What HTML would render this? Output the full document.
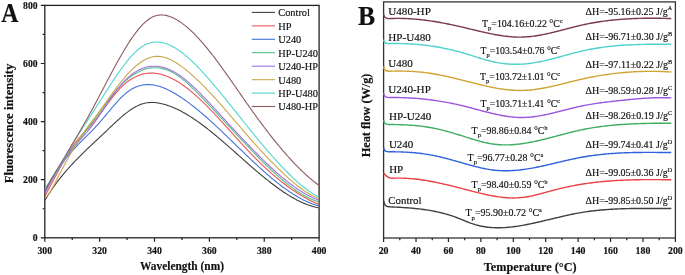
<!DOCTYPE html><html><head><meta charset="utf-8"><style>html,body{margin:0;padding:0;background:#fff;overflow:hidden}svg{display:block;will-change:transform}text{font-family:"Liberation Serif",serif;fill:#111;stroke:#111;stroke-width:0.18px}</style></head><body>
<svg width="685" height="275" viewBox="0 0 685 275">
<rect x="44.8" y="5.4" width="274.3" height="232.4" fill="none" stroke="#222" stroke-width="1.3"/>
<path d="M44.8,237.80h-4 M44.8,208.75h-2.2 M44.8,179.70h-4 M44.8,150.65h-2.2 M44.8,121.60h-4 M44.8,92.55h-2.2 M44.8,63.50h-4 M44.8,34.45h-2.2 M44.8,5.40h-4 M44.80,237.8v4 M72.23,237.8v2.2 M99.66,237.8v4 M127.09,237.8v2.2 M154.52,237.8v4 M181.95,237.8v2.2 M209.38,237.8v4 M236.81,237.8v2.2 M264.24,237.8v4 M291.67,237.8v2.2 M319.10,237.8v4" stroke="#222" stroke-width="1.2" fill="none"/>
<text transform="translate(37.6,241.20000000000002) scale(0.92,1)" font-size="10.5" font-weight="bold" text-anchor="end">0</text>
<text transform="translate(37.6,183.10000000000002) scale(0.92,1)" font-size="10.5" font-weight="bold" text-anchor="end">200</text>
<text transform="translate(37.6,125.00000000000001) scale(0.92,1)" font-size="10.5" font-weight="bold" text-anchor="end">400</text>
<text transform="translate(37.6,66.9) scale(0.92,1)" font-size="10.5" font-weight="bold" text-anchor="end">600</text>
<text transform="translate(37.6,8.800000000000006) scale(0.92,1)" font-size="10.5" font-weight="bold" text-anchor="end">800</text>
<text transform="translate(44.8,254.1) scale(0.92,1)" font-size="10.6" font-weight="bold" text-anchor="middle">300</text>
<text transform="translate(99.66,254.1) scale(0.92,1)" font-size="10.6" font-weight="bold" text-anchor="middle">320</text>
<text transform="translate(154.51999999999998,254.1) scale(0.92,1)" font-size="10.6" font-weight="bold" text-anchor="middle">340</text>
<text transform="translate(209.38,254.1) scale(0.92,1)" font-size="10.6" font-weight="bold" text-anchor="middle">360</text>
<text transform="translate(264.24,254.1) scale(0.92,1)" font-size="10.6" font-weight="bold" text-anchor="middle">380</text>
<text transform="translate(319.1,254.1) scale(0.92,1)" font-size="10.6" font-weight="bold" text-anchor="middle">400</text>
<text x="140" y="270.3" font-size="12.3" font-weight="bold" text-anchor="start" textLength="84" lengthAdjust="spacingAndGlyphs">Wavelength (nm)</text>
<text transform="translate(12.8,183.3) rotate(-90)" x="0" y="0" font-size="12.5" font-weight="bold" textLength="119.6" lengthAdjust="spacingAndGlyphs">Fluorescence intensity</text>
<text transform="translate(1.3,21.5) scale(0.9,1)" font-size="26.5" font-weight="bold" text-anchor="start">A</text>
<g fill="none" stroke-width="1.1" stroke-linejoin="round">
<polyline points="44.8,200.37 45.8,198.73 46.8,197.13 47.8,195.54 48.8,193.99 49.8,192.47 50.8,190.97 51.8,189.50 52.8,188.06 53.8,186.64 54.8,185.24 55.8,183.87 56.8,182.52 57.8,181.19 58.8,179.89 59.8,178.60 60.8,177.34 61.8,176.09 62.8,174.87 63.8,173.66 64.8,172.47 65.8,171.30 66.8,170.14 67.8,169.00 68.8,167.87 69.8,166.76 70.8,165.66 71.8,164.57 72.8,163.50 73.8,162.44 74.8,161.39 75.8,160.34 76.8,159.31 77.8,158.29 78.8,157.27 79.8,156.27 80.8,155.27 81.8,154.28 82.8,153.29 83.8,152.32 84.8,151.34 85.8,150.38 86.8,149.42 87.8,148.46 88.8,147.51 89.8,146.56 90.8,145.61 91.8,144.67 92.8,143.73 93.8,142.79 94.8,141.85 95.8,140.92 96.8,139.98 97.8,139.05 98.8,138.11 99.8,137.18 100.8,136.24 101.8,135.30 102.8,134.37 103.8,133.42 104.8,132.48 105.8,131.53 106.8,130.58 107.8,129.62 108.8,128.67 109.8,127.71 110.8,126.76 111.8,125.81 112.8,124.86 113.8,123.92 114.8,122.98 115.8,122.05 116.8,121.13 117.8,120.22 118.8,119.31 119.8,118.42 120.8,117.54 121.8,116.68 122.8,115.83 123.8,114.99 124.8,114.18 125.8,113.38 126.8,112.60 127.8,111.84 128.8,111.10 129.8,110.39 130.8,109.70 131.8,109.04 132.8,108.40 133.8,107.79 134.8,107.20 135.8,106.65 136.8,106.13 137.8,105.64 138.8,105.18 139.8,104.76 140.8,104.38 141.8,104.03 142.8,103.71 143.8,103.44 144.8,103.20 145.8,102.99 146.8,102.82 147.8,102.68 148.8,102.58 149.8,102.50 150.8,102.46 151.8,102.45 152.8,102.46 153.8,102.50 154.8,102.57 155.8,102.66 156.8,102.78 157.8,102.92 158.8,103.09 159.8,103.27 160.8,103.48 161.8,103.71 162.8,103.96 163.8,104.22 164.8,104.51 165.8,104.81 166.8,105.12 167.8,105.45 168.8,105.80 169.8,106.16 170.8,106.54 171.8,106.93 172.8,107.33 173.8,107.75 174.8,108.19 175.8,108.64 176.8,109.10 177.8,109.58 178.8,110.07 179.8,110.57 180.8,111.08 181.8,111.61 182.8,112.15 183.8,112.71 184.8,113.27 185.8,113.85 186.8,114.44 187.8,115.03 188.8,115.65 189.8,116.27 190.8,116.90 191.8,117.54 192.8,118.19 193.8,118.86 194.8,119.53 195.8,120.21 196.8,120.90 197.8,121.61 198.8,122.32 199.8,123.03 200.8,123.76 201.8,124.50 202.8,125.24 203.8,125.99 204.8,126.75 205.8,127.52 206.8,128.29 207.8,129.07 208.8,129.86 209.8,130.65 210.8,131.45 211.8,132.26 212.8,133.07 213.8,133.89 214.8,134.71 215.8,135.54 216.8,136.37 217.8,137.21 218.8,138.05 219.8,138.90 220.8,139.75 221.8,140.61 222.8,141.47 223.8,142.33 224.8,143.20 225.8,144.06 226.8,144.94 227.8,145.81 228.8,146.69 229.8,147.57 230.8,148.45 231.8,149.33 232.8,150.21 233.8,151.10 234.8,151.98 235.8,152.87 236.8,153.76 237.8,154.65 238.8,155.54 239.8,156.42 240.8,157.31 241.8,158.20 242.8,159.09 243.8,159.97 244.8,160.86 245.8,161.74 246.8,162.62 247.8,163.50 248.8,164.38 249.8,165.26 250.8,166.13 251.8,167.00 252.8,167.87 253.8,168.74 254.8,169.60 255.8,170.46 256.8,171.31 257.8,172.16 258.8,173.01 259.8,173.85 260.8,174.69 261.8,175.52 262.8,176.35 263.8,177.17 264.8,177.98 265.8,178.80 266.8,179.60 267.8,180.40 268.8,181.19 269.8,181.98 270.8,182.76 271.8,183.53 272.8,184.29 273.8,185.05 274.8,185.80 275.8,186.54 276.8,187.28 277.8,188.00 278.8,188.72 279.8,189.43 280.8,190.12 281.8,190.81 282.8,191.50 283.8,192.17 284.8,192.83 285.8,193.48 286.8,194.12 287.8,194.75 288.8,195.37 289.8,195.98 290.8,196.57 291.8,197.16 292.8,197.73 293.8,198.29 294.8,198.84 295.8,199.38 296.8,199.91 297.8,200.42 298.8,200.92 299.8,201.41 300.8,201.88 301.8,202.34 302.8,202.79 303.8,203.22 304.8,203.63 305.8,204.04 306.8,204.43 307.8,204.80 308.8,205.16 309.8,205.50 310.8,205.83 311.8,206.14 312.8,206.44 313.8,206.72 314.8,206.98 315.8,207.23 316.8,207.46 317.8,207.67 318.5,207.81" stroke="#404040"/>
<polyline points="44.8,196.25 45.8,194.43 46.8,192.59 47.8,190.73 48.8,188.87 49.8,186.99 50.8,185.11 51.8,183.22 52.8,181.32 53.8,179.43 54.8,177.54 55.8,175.65 56.8,173.76 57.8,171.89 58.8,170.02 59.8,168.17 60.8,166.34 61.8,164.52 62.8,162.71 63.8,160.94 64.8,159.18 65.8,157.45 66.8,155.76 67.8,154.09 68.8,152.45 69.8,150.85 70.8,149.29 71.8,147.77 72.8,146.29 73.8,144.86 74.8,143.47 75.8,142.13 76.8,140.85 77.8,139.61 78.8,138.43 79.8,137.28 80.8,136.16 81.8,135.07 82.8,134.00 83.8,132.95 84.8,131.91 85.8,130.87 86.8,129.83 87.8,128.78 88.8,127.72 89.8,126.63 90.8,125.52 91.8,124.38 92.8,123.21 93.8,122.00 94.8,120.77 95.8,119.52 96.8,118.24 97.8,116.94 98.8,115.63 99.8,114.30 100.8,112.96 101.8,111.61 102.8,110.25 103.8,108.90 104.8,107.53 105.8,106.17 106.8,104.82 107.8,103.47 108.8,102.13 109.8,100.80 110.8,99.49 111.8,98.19 112.8,96.91 113.8,95.65 114.8,94.42 115.8,93.21 116.8,92.04 117.8,90.89 118.8,89.78 119.8,88.71 120.8,87.68 121.8,86.69 122.8,85.73 123.8,84.81 124.8,83.93 125.8,83.09 126.8,82.28 127.8,81.51 128.8,80.78 129.8,80.08 130.8,79.42 131.8,78.79 132.8,78.20 133.8,77.64 134.8,77.12 135.8,76.63 136.8,76.17 137.8,75.75 138.8,75.36 139.8,75.00 140.8,74.67 141.8,74.37 142.8,74.11 143.8,73.88 144.8,73.67 145.8,73.50 146.8,73.36 147.8,73.24 148.8,73.16 149.8,73.10 150.8,73.08 151.8,73.08 152.8,73.11 153.8,73.16 154.8,73.24 155.8,73.35 156.8,73.49 157.8,73.65 158.8,73.84 159.8,74.05 160.8,74.28 161.8,74.55 162.8,74.83 163.8,75.14 164.8,75.47 165.8,75.83 166.8,76.21 167.8,76.61 168.8,77.03 169.8,77.48 170.8,77.94 171.8,78.43 172.8,78.93 173.8,79.46 174.8,80.01 175.8,80.58 176.8,81.16 177.8,81.77 178.8,82.39 179.8,83.03 180.8,83.69 181.8,84.37 182.8,85.06 183.8,85.77 184.8,86.50 185.8,87.24 186.8,88.00 187.8,88.78 188.8,89.56 189.8,90.37 190.8,91.19 191.8,92.02 192.8,92.87 193.8,93.73 194.8,94.60 195.8,95.48 196.8,96.38 197.8,97.29 198.8,98.21 199.8,99.14 200.8,100.09 201.8,101.04 202.8,102.00 203.8,102.98 204.8,103.96 205.8,104.95 206.8,105.95 207.8,106.96 208.8,107.98 209.8,109.01 210.8,110.04 211.8,111.08 212.8,112.13 213.8,113.18 214.8,114.24 215.8,115.31 216.8,116.38 217.8,117.45 218.8,118.53 219.8,119.62 220.8,120.71 221.8,121.80 222.8,122.89 223.8,123.99 224.8,125.09 225.8,126.20 226.8,127.30 227.8,128.41 228.8,129.52 229.8,130.63 230.8,131.74 231.8,132.85 232.8,133.96 233.8,135.06 234.8,136.17 235.8,137.28 236.8,138.39 237.8,139.49 238.8,140.59 239.8,141.69 240.8,142.79 241.8,143.88 242.8,144.97 243.8,146.05 244.8,147.13 245.8,148.21 246.8,149.28 247.8,150.35 248.8,151.41 249.8,152.46 250.8,153.51 251.8,154.55 252.8,155.59 253.8,156.61 254.8,157.63 255.8,158.64 256.8,159.65 257.8,160.64 258.8,161.63 259.8,162.60 260.8,163.57 261.8,164.54 262.8,165.49 263.8,166.43 264.8,167.37 265.8,168.30 266.8,169.22 267.8,170.13 268.8,171.03 269.8,171.92 270.8,172.81 271.8,173.68 272.8,174.55 273.8,175.41 274.8,176.26 275.8,177.10 276.8,177.93 277.8,178.76 278.8,179.57 279.8,180.38 280.8,181.17 281.8,181.96 282.8,182.74 283.8,183.51 284.8,184.27 285.8,185.02 286.8,185.76 287.8,186.50 288.8,187.22 289.8,187.93 290.8,188.64 291.8,189.34 292.8,190.02 293.8,190.70 294.8,191.37 295.8,192.03 296.8,192.67 297.8,193.31 298.8,193.94 299.8,194.56 300.8,195.17 301.8,195.77 302.8,196.37 303.8,196.95 304.8,197.52 305.8,198.08 306.8,198.63 307.8,199.18 308.8,199.71 309.8,200.23 310.8,200.74 311.8,201.25 312.8,201.74 313.8,202.22 314.8,202.69 315.8,203.16 316.8,203.61 317.8,204.05 318.5,204.35" stroke="#e8555a"/>
<polyline points="44.8,193.43 45.8,191.29 46.8,189.21 47.8,187.18 48.8,185.20 49.8,183.28 50.8,181.41 51.8,179.59 52.8,177.81 53.8,176.09 54.8,174.41 55.8,172.77 56.8,171.18 57.8,169.62 58.8,168.11 59.8,166.63 60.8,165.20 61.8,163.79 62.8,162.42 63.8,161.09 64.8,159.78 65.8,158.50 66.8,157.26 67.8,156.03 68.8,154.84 69.8,153.67 70.8,152.51 71.8,151.38 72.8,150.27 73.8,149.18 74.8,148.10 75.8,147.04 76.8,146.00 77.8,144.96 78.8,143.93 79.8,142.92 80.8,141.91 81.8,140.91 82.8,139.91 83.8,138.91 84.8,137.92 85.8,136.93 86.8,135.94 87.8,134.94 88.8,133.94 89.8,132.93 90.8,131.92 91.8,130.90 92.8,129.87 93.8,128.83 94.8,127.77 95.8,126.70 96.8,125.62 97.8,124.52 98.8,123.40 99.8,122.26 100.8,121.11 101.8,119.94 102.8,118.76 103.8,117.57 104.8,116.37 105.8,115.17 106.8,113.97 107.8,112.76 108.8,111.55 109.8,110.35 110.8,109.16 111.8,107.97 112.8,106.79 113.8,105.62 114.8,104.47 115.8,103.33 116.8,102.21 117.8,101.12 118.8,100.04 119.8,98.99 120.8,97.97 121.8,96.97 122.8,96.01 123.8,95.08 124.8,94.19 125.8,93.33 126.8,92.52 127.8,91.74 128.8,91.01 129.8,90.33 130.8,89.68 131.8,89.08 132.8,88.52 133.8,88.00 134.8,87.51 135.8,87.07 136.8,86.67 137.8,86.30 138.8,85.97 139.8,85.68 140.8,85.42 141.8,85.20 142.8,85.02 143.8,84.86 144.8,84.74 145.8,84.66 146.8,84.60 147.8,84.58 148.8,84.59 149.8,84.63 150.8,84.69 151.8,84.79 152.8,84.92 153.8,85.07 154.8,85.25 155.8,85.45 156.8,85.68 157.8,85.94 158.8,86.22 159.8,86.52 160.8,86.85 161.8,87.20 162.8,87.57 163.8,87.96 164.8,88.37 165.8,88.81 166.8,89.26 167.8,89.73 168.8,90.22 169.8,90.72 170.8,91.24 171.8,91.78 172.8,92.33 173.8,92.90 174.8,93.48 175.8,94.08 176.8,94.69 177.8,95.31 178.8,95.94 179.8,96.58 180.8,97.24 181.8,97.90 182.8,98.58 183.8,99.27 184.8,99.97 185.8,100.67 186.8,101.39 187.8,102.12 188.8,102.86 189.8,103.61 190.8,104.37 191.8,105.14 192.8,105.91 193.8,106.70 194.8,107.49 195.8,108.29 196.8,109.10 197.8,109.92 198.8,110.75 199.8,111.58 200.8,112.42 201.8,113.27 202.8,114.13 203.8,114.99 204.8,115.86 205.8,116.73 206.8,117.61 207.8,118.50 208.8,119.39 209.8,120.29 210.8,121.19 211.8,122.10 212.8,123.01 213.8,123.93 214.8,124.85 215.8,125.78 216.8,126.71 217.8,127.65 218.8,128.59 219.8,129.53 220.8,130.47 221.8,131.42 222.8,132.37 223.8,133.33 224.8,134.28 225.8,135.24 226.8,136.20 227.8,137.16 228.8,138.13 229.8,139.09 230.8,140.06 231.8,141.03 232.8,142.00 233.8,142.97 234.8,143.94 235.8,144.90 236.8,145.87 237.8,146.84 238.8,147.81 239.8,148.78 240.8,149.75 241.8,150.72 242.8,151.68 243.8,152.65 244.8,153.61 245.8,154.57 246.8,155.53 247.8,156.48 248.8,157.44 249.8,158.39 250.8,159.34 251.8,160.28 252.8,161.23 253.8,162.16 254.8,163.10 255.8,164.03 256.8,164.96 257.8,165.88 258.8,166.80 259.8,167.71 260.8,168.62 261.8,169.52 262.8,170.42 263.8,171.31 264.8,172.20 265.8,173.08 266.8,173.96 267.8,174.82 268.8,175.69 269.8,176.54 270.8,177.39 271.8,178.23 272.8,179.06 273.8,179.89 274.8,180.71 275.8,181.52 276.8,182.32 277.8,183.11 278.8,183.90 279.8,184.68 280.8,185.44 281.8,186.20 282.8,186.95 283.8,187.69 284.8,188.42 285.8,189.14 286.8,189.85 287.8,190.55 288.8,191.23 289.8,191.91 290.8,192.58 291.8,193.23 292.8,193.88 293.8,194.51 294.8,195.13 295.8,195.74 296.8,196.33 297.8,196.91 298.8,197.49 299.8,198.04 300.8,198.59 301.8,199.12 302.8,199.64 303.8,200.14 304.8,200.63 305.8,201.11 306.8,201.57 307.8,202.02 308.8,202.45 309.8,202.87 310.8,203.27 311.8,203.65 312.8,204.03 313.8,204.38 314.8,204.72 315.8,205.05 316.8,205.35 317.8,205.64 318.5,205.84" stroke="#3f72d8"/>
<polyline points="44.8,189.95 45.8,188.15 46.8,186.38 47.8,184.64 48.8,182.93 49.8,181.25 50.8,179.59 51.8,177.95 52.8,176.34 53.8,174.75 54.8,173.19 55.8,171.64 56.8,170.12 57.8,168.61 58.8,167.13 59.8,165.66 60.8,164.21 61.8,162.78 62.8,161.36 63.8,159.95 64.8,158.56 65.8,157.18 66.8,155.82 67.8,154.46 68.8,153.12 69.8,151.78 70.8,150.45 71.8,149.13 72.8,147.82 73.8,146.51 74.8,145.21 75.8,143.91 76.8,142.62 77.8,141.32 78.8,140.03 79.8,138.74 80.8,137.45 81.8,136.15 82.8,134.86 83.8,133.56 84.8,132.26 85.8,130.95 86.8,129.64 87.8,128.33 88.8,127.00 89.8,125.67 90.8,124.32 91.8,122.97 92.8,121.61 93.8,120.24 94.8,118.87 95.8,117.49 96.8,116.10 97.8,114.72 98.8,113.33 99.8,111.94 100.8,110.56 101.8,109.18 102.8,107.80 103.8,106.43 104.8,105.07 105.8,103.72 106.8,102.38 107.8,101.05 108.8,99.73 109.8,98.43 110.8,97.14 111.8,95.87 112.8,94.62 113.8,93.39 114.8,92.19 115.8,91.00 116.8,89.84 117.8,88.71 118.8,87.60 119.8,86.52 120.8,85.47 121.8,84.45 122.8,83.46 123.8,82.50 124.8,81.57 125.8,80.67 126.8,79.80 127.8,78.96 128.8,78.15 129.8,77.37 130.8,76.62 131.8,75.90 132.8,75.21 133.8,74.55 134.8,73.92 135.8,73.32 136.8,72.75 137.8,72.21 138.8,71.70 139.8,71.22 140.8,70.77 141.8,70.35 142.8,69.96 143.8,69.60 144.8,69.28 145.8,68.98 146.8,68.71 147.8,68.48 148.8,68.27 149.8,68.09 150.8,67.95 151.8,67.84 152.8,67.75 153.8,67.70 154.8,67.68 155.8,67.69 156.8,67.73 157.8,67.80 158.8,67.90 159.8,68.03 160.8,68.20 161.8,68.39 162.8,68.62 163.8,68.87 164.8,69.16 165.8,69.48 166.8,69.83 167.8,70.21 168.8,70.62 169.8,71.06 170.8,71.54 171.8,72.04 172.8,72.58 173.8,73.14 174.8,73.74 175.8,74.36 176.8,75.01 177.8,75.68 178.8,76.38 179.8,77.10 180.8,77.85 181.8,78.62 182.8,79.41 183.8,80.22 184.8,81.05 185.8,81.90 186.8,82.77 187.8,83.66 188.8,84.56 189.8,85.48 190.8,86.42 191.8,87.36 192.8,88.32 193.8,89.30 194.8,90.28 195.8,91.28 196.8,92.28 197.8,93.30 198.8,94.32 199.8,95.35 200.8,96.38 201.8,97.42 202.8,98.47 203.8,99.52 204.8,100.57 205.8,101.62 206.8,102.68 207.8,103.73 208.8,104.79 209.8,105.85 210.8,106.91 211.8,107.98 212.8,109.04 213.8,110.11 214.8,111.17 215.8,112.24 216.8,113.31 217.8,114.38 218.8,115.45 219.8,116.52 220.8,117.59 221.8,118.66 222.8,119.73 223.8,120.80 224.8,121.88 225.8,122.95 226.8,124.02 227.8,125.09 228.8,126.16 229.8,127.24 230.8,128.31 231.8,129.38 232.8,130.45 233.8,131.52 234.8,132.59 235.8,133.65 236.8,134.72 237.8,135.79 238.8,136.85 239.8,137.92 240.8,138.98 241.8,140.04 242.8,141.10 243.8,142.16 244.8,143.21 245.8,144.27 246.8,145.32 247.8,146.37 248.8,147.42 249.8,148.47 250.8,149.51 251.8,150.56 252.8,151.59 253.8,152.63 254.8,153.66 255.8,154.69 256.8,155.72 257.8,156.74 258.8,157.76 259.8,158.77 260.8,159.78 261.8,160.78 262.8,161.78 263.8,162.77 264.8,163.76 265.8,164.74 266.8,165.72 267.8,166.69 268.8,167.65 269.8,168.60 270.8,169.55 271.8,170.49 272.8,171.42 273.8,172.35 274.8,173.27 275.8,174.18 276.8,175.08 277.8,175.97 278.8,176.85 279.8,177.72 280.8,178.59 281.8,179.44 282.8,180.29 283.8,181.12 284.8,181.94 285.8,182.76 286.8,183.56 287.8,184.35 288.8,185.13 289.8,185.90 290.8,186.66 291.8,187.40 292.8,188.13 293.8,188.85 294.8,189.56 295.8,190.25 296.8,190.93 297.8,191.60 298.8,192.25 299.8,192.89 300.8,193.51 301.8,194.12 302.8,194.72 303.8,195.30 304.8,195.86 305.8,196.41 306.8,196.95 307.8,197.47 308.8,197.97 309.8,198.46 310.8,198.92 311.8,199.38 312.8,199.81 313.8,200.23 314.8,200.63 315.8,201.01 316.8,201.38 317.8,201.72 318.5,201.96" stroke="#54c084"/>
<polyline points="44.8,192.37 45.8,190.61 46.8,188.86 47.8,187.12 48.8,185.39 49.8,183.67 50.8,181.97 51.8,180.27 52.8,178.60 53.8,176.93 54.8,175.28 55.8,173.64 56.8,172.02 57.8,170.42 58.8,168.83 59.8,167.26 60.8,165.71 61.8,164.17 62.8,162.65 63.8,161.16 64.8,159.68 65.8,158.22 66.8,156.78 67.8,155.36 68.8,153.97 69.8,152.60 70.8,151.24 71.8,149.92 72.8,148.61 73.8,147.33 74.8,146.08 75.8,144.85 76.8,143.65 77.8,142.47 78.8,141.31 79.8,140.16 80.8,139.03 81.8,137.91 82.8,136.79 83.8,135.66 84.8,134.53 85.8,133.39 86.8,132.24 87.8,131.06 88.8,129.87 89.8,128.64 90.8,127.38 91.8,126.09 92.8,124.76 93.8,123.39 94.8,122.00 95.8,120.58 96.8,119.13 97.8,117.67 98.8,116.19 99.8,114.69 100.8,113.18 101.8,111.66 102.8,110.14 103.8,108.62 104.8,107.09 105.8,105.57 106.8,104.06 107.8,102.55 108.8,101.06 109.8,99.59 110.8,98.13 111.8,96.70 112.8,95.29 113.8,93.91 114.8,92.56 115.8,91.23 116.8,89.94 117.8,88.67 118.8,87.44 119.8,86.23 120.8,85.06 121.8,83.92 122.8,82.82 123.8,81.74 124.8,80.71 125.8,79.71 126.8,78.74 127.8,77.81 128.8,76.92 129.8,76.07 130.8,75.26 131.8,74.48 132.8,73.74 133.8,73.03 134.8,72.36 135.8,71.73 136.8,71.13 137.8,70.57 138.8,70.05 139.8,69.56 140.8,69.10 141.8,68.68 142.8,68.29 143.8,67.94 144.8,67.62 145.8,67.33 146.8,67.08 147.8,66.86 148.8,66.67 149.8,66.51 150.8,66.39 151.8,66.30 152.8,66.24 153.8,66.21 154.8,66.21 155.8,66.24 156.8,66.30 157.8,66.39 158.8,66.52 159.8,66.67 160.8,66.85 161.8,67.06 162.8,67.30 163.8,67.56 164.8,67.86 165.8,68.18 166.8,68.53 167.8,68.91 168.8,69.31 169.8,69.75 170.8,70.20 171.8,70.69 172.8,71.20 173.8,71.73 174.8,72.30 175.8,72.88 176.8,73.49 177.8,74.13 178.8,74.79 179.8,75.47 180.8,76.18 181.8,76.90 182.8,77.65 183.8,78.42 184.8,79.21 185.8,80.01 186.8,80.84 187.8,81.68 188.8,82.54 189.8,83.42 190.8,84.31 191.8,85.22 192.8,86.14 193.8,87.08 194.8,88.03 195.8,88.99 196.8,89.97 197.8,90.96 198.8,91.95 199.8,92.96 200.8,93.98 201.8,95.01 202.8,96.04 203.8,97.08 204.8,98.13 205.8,99.19 206.8,100.25 207.8,101.31 208.8,102.38 209.8,103.46 210.8,104.53 211.8,105.61 212.8,106.69 213.8,107.78 214.8,108.86 215.8,109.95 216.8,111.03 217.8,112.12 218.8,113.21 219.8,114.30 220.8,115.39 221.8,116.47 222.8,117.56 223.8,118.65 224.8,119.74 225.8,120.83 226.8,121.92 227.8,123.01 228.8,124.10 229.8,125.18 230.8,126.27 231.8,127.35 232.8,128.44 233.8,129.52 234.8,130.60 235.8,131.68 236.8,132.76 237.8,133.83 238.8,134.91 239.8,135.98 240.8,137.05 241.8,138.11 242.8,139.18 243.8,140.24 244.8,141.30 245.8,142.35 246.8,143.40 247.8,144.45 248.8,145.50 249.8,146.54 250.8,147.58 251.8,148.61 252.8,149.64 253.8,150.67 254.8,151.69 255.8,152.71 256.8,153.72 257.8,154.73 258.8,155.74 259.8,156.73 260.8,157.73 261.8,158.72 262.8,159.70 263.8,160.67 264.8,161.65 265.8,162.61 266.8,163.57 267.8,164.52 268.8,165.47 269.8,166.40 270.8,167.34 271.8,168.26 272.8,169.18 273.8,170.09 274.8,170.99 275.8,171.88 276.8,172.77 277.8,173.65 278.8,174.52 279.8,175.38 280.8,176.23 281.8,177.07 282.8,177.90 283.8,178.73 284.8,179.54 285.8,180.35 286.8,181.14 287.8,181.93 288.8,182.70 289.8,183.47 290.8,184.22 291.8,184.97 292.8,185.70 293.8,186.42 294.8,187.13 295.8,187.83 296.8,188.51 297.8,189.19 298.8,189.85 299.8,190.50 300.8,191.14 301.8,191.77 302.8,192.38 303.8,192.98 304.8,193.57 305.8,194.14 306.8,194.70 307.8,195.25 308.8,195.78 309.8,196.30 310.8,196.81 311.8,197.30 312.8,197.77 313.8,198.23 314.8,198.68 315.8,199.11 316.8,199.53 317.8,199.93 318.5,200.20" stroke="#a070e0"/>
<polyline points="44.8,198.15 45.8,197.39 46.8,196.41 47.8,195.25 48.8,193.91 49.8,192.42 50.8,190.80 51.8,189.07 52.8,187.25 53.8,185.36 54.8,183.41 55.8,181.44 56.8,179.45 57.8,177.47 58.8,175.52 59.8,173.59 60.8,171.69 61.8,169.80 62.8,167.93 63.8,166.07 64.8,164.21 65.8,162.36 66.8,160.51 67.8,158.66 68.8,156.82 69.8,154.98 70.8,153.16 71.8,151.36 72.8,149.58 73.8,147.83 74.8,146.11 75.8,144.43 76.8,142.78 77.8,141.17 78.8,139.60 79.8,138.07 80.8,136.57 81.8,135.10 82.8,133.66 83.8,132.25 84.8,130.85 85.8,129.48 86.8,128.12 87.8,126.78 88.8,125.45 89.8,124.13 90.8,122.82 91.8,121.51 92.8,120.21 93.8,118.90 94.8,117.59 95.8,116.27 96.8,114.95 97.8,113.61 98.8,112.26 99.8,110.89 100.8,109.51 101.8,108.13 102.8,106.73 103.8,105.32 104.8,103.91 105.8,102.50 106.8,101.08 107.8,99.67 108.8,98.26 109.8,96.85 110.8,95.45 111.8,94.06 112.8,92.68 113.8,91.32 114.8,89.97 115.8,88.63 116.8,87.30 117.8,86.00 118.8,84.71 119.8,83.43 120.8,82.18 121.8,80.94 122.8,79.73 123.8,78.53 124.8,77.36 125.8,76.21 126.8,75.08 127.8,73.98 128.8,72.90 129.8,71.85 130.8,70.83 131.8,69.83 132.8,68.86 133.8,67.92 134.8,67.01 135.8,66.14 136.8,65.29 137.8,64.48 138.8,63.70 139.8,62.95 140.8,62.24 141.8,61.57 142.8,60.93 143.8,60.33 144.8,59.77 145.8,59.25 146.8,58.77 147.8,58.33 148.8,57.94 149.8,57.58 150.8,57.27 151.8,57.00 152.8,56.78 153.8,56.61 154.8,56.48 155.8,56.39 156.8,56.35 157.8,56.36 158.8,56.40 159.8,56.49 160.8,56.61 161.8,56.77 162.8,56.97 163.8,57.21 164.8,57.48 165.8,57.79 166.8,58.13 167.8,58.51 168.8,58.91 169.8,59.35 170.8,59.82 171.8,60.31 172.8,60.84 173.8,61.38 174.8,61.96 175.8,62.56 176.8,63.18 177.8,63.83 178.8,64.50 179.8,65.19 180.8,65.89 181.8,66.62 182.8,67.36 183.8,68.13 184.8,68.90 185.8,69.69 186.8,70.50 187.8,71.32 188.8,72.16 189.8,73.01 190.8,73.87 191.8,74.74 192.8,75.63 193.8,76.53 194.8,77.45 195.8,78.38 196.8,79.31 197.8,80.26 198.8,81.22 199.8,82.19 200.8,83.18 201.8,84.17 202.8,85.17 203.8,86.18 204.8,87.21 205.8,88.24 206.8,89.28 207.8,90.32 208.8,91.38 209.8,92.44 210.8,93.52 211.8,94.59 212.8,95.68 213.8,96.77 214.8,97.87 215.8,98.98 216.8,100.09 217.8,101.20 218.8,102.32 219.8,103.45 220.8,104.58 221.8,105.72 222.8,106.86 223.8,108.00 224.8,109.15 225.8,110.30 226.8,111.45 227.8,112.60 228.8,113.76 229.8,114.92 230.8,116.08 231.8,117.25 232.8,118.41 233.8,119.58 234.8,120.74 235.8,121.91 236.8,123.08 237.8,124.24 238.8,125.41 239.8,126.58 240.8,127.74 241.8,128.91 242.8,130.07 243.8,131.23 244.8,132.39 245.8,133.54 246.8,134.70 247.8,135.85 248.8,137.00 249.8,138.14 250.8,139.28 251.8,140.42 252.8,141.55 253.8,142.68 254.8,143.81 255.8,144.93 256.8,146.04 257.8,147.15 258.8,148.25 259.8,149.35 260.8,150.44 261.8,151.53 262.8,152.61 263.8,153.69 264.8,154.76 265.8,155.82 266.8,156.88 267.8,157.93 268.8,158.98 269.8,160.02 270.8,161.05 271.8,162.08 272.8,163.10 273.8,164.11 274.8,165.12 275.8,166.12 276.8,167.11 277.8,168.09 278.8,169.07 279.8,170.04 280.8,171.01 281.8,171.96 282.8,172.91 283.8,173.86 284.8,174.79 285.8,175.72 286.8,176.63 287.8,177.54 288.8,178.44 289.8,179.33 290.8,180.21 291.8,181.07 292.8,181.93 293.8,182.77 294.8,183.60 295.8,184.42 296.8,185.23 297.8,186.02 298.8,186.80 299.8,187.56 300.8,188.30 301.8,189.03 302.8,189.75 303.8,190.45 304.8,191.13 305.8,191.79 306.8,192.43 307.8,193.06 308.8,193.66 309.8,194.25 310.8,194.81 311.8,195.36 312.8,195.88 313.8,196.38 314.8,196.86 315.8,197.32 316.8,197.75 317.8,198.16 318.5,198.44" stroke="#c9a84a"/>
<polyline points="44.8,188.79 45.8,187.54 46.8,186.25 47.8,184.91 48.8,183.53 49.8,182.11 50.8,180.65 51.8,179.15 52.8,177.62 53.8,176.06 54.8,174.47 55.8,172.86 56.8,171.21 57.8,169.55 58.8,167.86 59.8,166.16 60.8,164.44 61.8,162.71 62.8,160.97 63.8,159.22 64.8,157.46 65.8,155.70 66.8,153.93 67.8,152.17 68.8,150.41 69.8,148.66 70.8,146.92 71.8,145.20 72.8,143.49 73.8,141.80 74.8,140.14 75.8,138.50 76.8,136.90 77.8,135.32 78.8,133.78 79.8,132.25 80.8,130.73 81.8,129.23 82.8,127.72 83.8,126.22 84.8,124.70 85.8,123.18 86.8,121.65 87.8,120.12 88.8,118.58 89.8,117.03 90.8,115.48 91.8,113.92 92.8,112.36 93.8,110.80 94.8,109.23 95.8,107.67 96.8,106.10 97.8,104.53 98.8,102.96 99.8,101.39 100.8,99.82 101.8,98.25 102.8,96.68 103.8,95.12 104.8,93.55 105.8,92.00 106.8,90.44 107.8,88.89 108.8,87.35 109.8,85.81 110.8,84.28 111.8,82.75 112.8,81.23 113.8,79.73 114.8,78.23 115.8,76.74 116.8,75.27 117.8,73.82 118.8,72.38 119.8,70.95 120.8,69.55 121.8,68.17 122.8,66.80 123.8,65.46 124.8,64.15 125.8,62.86 126.8,61.60 127.8,60.36 128.8,59.16 129.8,57.98 130.8,56.84 131.8,55.73 132.8,54.65 133.8,53.62 134.8,52.61 135.8,51.65 136.8,50.73 137.8,49.85 138.8,49.01 139.8,48.21 140.8,47.47 141.8,46.76 142.8,46.11 143.8,45.50 144.8,44.95 145.8,44.45 146.8,43.99 147.8,43.59 148.8,43.23 149.8,42.92 150.8,42.66 151.8,42.44 152.8,42.27 153.8,42.14 154.8,42.05 155.8,42.01 156.8,42.00 157.8,42.04 158.8,42.11 159.8,42.22 160.8,42.37 161.8,42.55 162.8,42.77 163.8,43.02 164.8,43.31 165.8,43.62 166.8,43.97 167.8,44.35 168.8,44.76 169.8,45.20 170.8,45.66 171.8,46.15 172.8,46.68 173.8,47.22 174.8,47.80 175.8,48.40 176.8,49.02 177.8,49.67 178.8,50.35 179.8,51.05 180.8,51.77 181.8,52.51 182.8,53.27 183.8,54.06 184.8,54.87 185.8,55.70 186.8,56.54 187.8,57.41 188.8,58.29 189.8,59.20 190.8,60.12 191.8,61.06 192.8,62.01 193.8,62.98 194.8,63.96 195.8,64.96 196.8,65.97 197.8,67.00 198.8,68.04 199.8,69.09 200.8,70.16 201.8,71.23 202.8,72.32 203.8,73.42 204.8,74.52 205.8,75.64 206.8,76.76 207.8,77.89 208.8,79.03 209.8,80.18 210.8,81.34 211.8,82.50 212.8,83.67 213.8,84.85 214.8,86.03 215.8,87.22 216.8,88.42 217.8,89.62 218.8,90.83 219.8,92.04 220.8,93.26 221.8,94.48 222.8,95.71 223.8,96.94 224.8,98.17 225.8,99.41 226.8,100.65 227.8,101.89 228.8,103.14 229.8,104.39 230.8,105.64 231.8,106.89 232.8,108.15 233.8,109.40 234.8,110.66 235.8,111.92 236.8,113.17 237.8,114.43 238.8,115.69 239.8,116.95 240.8,118.21 241.8,119.46 242.8,120.72 243.8,121.97 244.8,123.22 245.8,124.47 246.8,125.72 247.8,126.97 248.8,128.21 249.8,129.45 250.8,130.68 251.8,131.92 252.8,133.14 253.8,134.37 254.8,135.59 255.8,136.81 256.8,138.02 257.8,139.23 258.8,140.44 259.8,141.64 260.8,142.83 261.8,144.02 262.8,145.21 263.8,146.39 264.8,147.56 265.8,148.73 266.8,149.90 267.8,151.05 268.8,152.21 269.8,153.35 270.8,154.49 271.8,155.62 272.8,156.75 273.8,157.87 274.8,158.98 275.8,160.09 276.8,161.19 277.8,162.28 278.8,163.36 279.8,164.44 280.8,165.51 281.8,166.57 282.8,167.62 283.8,168.67 284.8,169.70 285.8,170.73 286.8,171.75 287.8,172.76 288.8,173.76 289.8,174.74 290.8,175.72 291.8,176.69 292.8,177.64 293.8,178.58 294.8,179.51 295.8,180.43 296.8,181.34 297.8,182.23 298.8,183.10 299.8,183.96 300.8,184.81 301.8,185.64 302.8,186.46 303.8,187.26 304.8,188.04 305.8,188.81 306.8,189.55 307.8,190.28 308.8,191.00 309.8,191.69 310.8,192.36 311.8,193.02 312.8,193.65 313.8,194.27 314.8,194.86 315.8,195.43 316.8,195.99 317.8,196.52 318.5,196.87" stroke="#4fd6cd"/>
<polyline points="44.8,190.64 45.8,188.90 46.8,187.16 47.8,185.43 48.8,183.71 49.8,181.99 50.8,180.29 51.8,178.58 52.8,176.88 53.8,175.19 54.8,173.50 55.8,171.82 56.8,170.14 57.8,168.46 58.8,166.79 59.8,165.12 60.8,163.45 61.8,161.78 62.8,160.11 63.8,158.45 64.8,156.78 65.8,155.11 66.8,153.45 67.8,151.78 68.8,150.11 69.8,148.43 70.8,146.76 71.8,145.08 72.8,143.40 73.8,141.71 74.8,140.02 75.8,138.32 76.8,136.62 77.8,134.91 78.8,133.20 79.8,131.48 80.8,129.75 81.8,128.02 82.8,126.27 83.8,124.52 84.8,122.76 85.8,120.99 86.8,119.21 87.8,117.42 88.8,115.62 89.8,113.81 90.8,111.98 91.8,110.15 92.8,108.30 93.8,106.44 94.8,104.57 95.8,102.69 96.8,100.81 97.8,98.91 98.8,97.02 99.8,95.11 100.8,93.21 101.8,91.30 102.8,89.39 103.8,87.48 104.8,85.57 105.8,83.66 106.8,81.76 107.8,79.85 108.8,77.96 109.8,76.07 110.8,74.18 111.8,72.31 112.8,70.44 113.8,68.59 114.8,66.74 115.8,64.91 116.8,63.09 117.8,61.28 118.8,59.49 119.8,57.72 120.8,55.96 121.8,54.22 122.8,52.51 123.8,50.81 124.8,49.14 125.8,47.49 126.8,45.87 127.8,44.27 128.8,42.70 129.8,41.16 130.8,39.65 131.8,38.17 132.8,36.73 133.8,35.32 134.8,33.95 135.8,32.61 136.8,31.31 137.8,30.06 138.8,28.84 139.8,27.66 140.8,26.53 141.8,25.45 142.8,24.41 143.8,23.42 144.8,22.48 145.8,21.58 146.8,20.74 147.8,19.96 148.8,19.22 149.8,18.55 150.8,17.93 151.8,17.36 152.8,16.86 153.8,16.42 154.8,16.04 155.8,15.71 156.8,15.45 157.8,15.24 158.8,15.08 159.8,14.98 160.8,14.93 161.8,14.92 162.8,14.97 163.8,15.06 164.8,15.20 165.8,15.39 166.8,15.61 167.8,15.88 168.8,16.18 169.8,16.52 170.8,16.90 171.8,17.32 172.8,17.77 173.8,18.25 174.8,18.76 175.8,19.30 176.8,19.87 177.8,20.46 178.8,21.09 179.8,21.74 180.8,22.42 181.8,23.12 182.8,23.85 183.8,24.61 184.8,25.39 185.8,26.19 186.8,27.02 187.8,27.88 188.8,28.75 189.8,29.65 190.8,30.57 191.8,31.51 192.8,32.47 193.8,33.46 194.8,34.46 195.8,35.49 196.8,36.53 197.8,37.59 198.8,38.67 199.8,39.77 200.8,40.89 201.8,42.02 202.8,43.17 203.8,44.34 204.8,45.52 205.8,46.71 206.8,47.93 207.8,49.15 208.8,50.39 209.8,51.64 210.8,52.91 211.8,54.19 212.8,55.48 213.8,56.78 214.8,58.10 215.8,59.42 216.8,60.75 217.8,62.10 218.8,63.45 219.8,64.81 220.8,66.18 221.8,67.56 222.8,68.95 223.8,70.34 224.8,71.74 225.8,73.15 226.8,74.56 227.8,75.97 228.8,77.39 229.8,78.82 230.8,80.25 231.8,81.68 232.8,83.12 233.8,84.55 234.8,85.99 235.8,87.43 236.8,88.88 237.8,90.32 238.8,91.76 239.8,93.20 240.8,94.65 241.8,96.09 242.8,97.53 243.8,98.96 244.8,100.40 245.8,101.83 246.8,103.25 247.8,104.68 248.8,106.10 249.8,107.51 250.8,108.92 251.8,110.32 252.8,111.72 253.8,113.11 254.8,114.50 255.8,115.88 256.8,117.26 257.8,118.63 258.8,119.99 259.8,121.35 260.8,122.70 261.8,124.05 262.8,125.38 263.8,126.71 264.8,128.04 265.8,129.36 266.8,130.66 267.8,131.97 268.8,133.26 269.8,134.55 270.8,135.83 271.8,137.10 272.8,138.36 273.8,139.62 274.8,140.86 275.8,142.10 276.8,143.33 277.8,144.55 278.8,145.76 279.8,146.96 280.8,148.16 281.8,149.34 282.8,150.52 283.8,151.68 284.8,152.83 285.8,153.98 286.8,155.11 287.8,156.24 288.8,157.35 289.8,158.46 290.8,159.55 291.8,160.63 292.8,161.70 293.8,162.76 294.8,163.81 295.8,164.85 296.8,165.87 297.8,166.89 298.8,167.89 299.8,168.88 300.8,169.86 301.8,170.83 302.8,171.78 303.8,172.72 304.8,173.65 305.8,174.57 306.8,175.47 307.8,176.36 308.8,177.24 309.8,178.10 310.8,178.95 311.8,179.79 312.8,180.61 313.8,181.42 314.8,182.21 315.8,182.99 316.8,183.76 317.8,184.51 318.5,185.03" stroke="#8c5a60"/>
</g>
<path d="M251.8,12.4H275" stroke="#404040" stroke-width="1.1"/>
<text transform="translate(278.3,16.3) scale(0.925,1)" font-size="11.2" font-weight="normal" text-anchor="start">Control</text>
<path d="M251.8,25.9H275" stroke="#e8555a" stroke-width="1.1"/>
<text transform="translate(278.3,29.75) scale(0.925,1)" font-size="11.2" font-weight="normal" text-anchor="start">HP</text>
<path d="M251.8,39.3H275" stroke="#3f72d8" stroke-width="1.1"/>
<text transform="translate(278.3,43.199999999999996) scale(0.925,1)" font-size="11.2" font-weight="normal" text-anchor="start">U240</text>
<path d="M251.8,52.7H275" stroke="#54c084" stroke-width="1.1"/>
<text transform="translate(278.3,56.64999999999999) scale(0.925,1)" font-size="11.2" font-weight="normal" text-anchor="start">HP-U240</text>
<path d="M251.8,66.2H275" stroke="#a070e0" stroke-width="1.1"/>
<text transform="translate(278.3,70.10000000000001) scale(0.925,1)" font-size="11.2" font-weight="normal" text-anchor="start">U240-HP</text>
<path d="M251.8,79.7H275" stroke="#c9a84a" stroke-width="1.1"/>
<text transform="translate(278.3,83.55000000000001) scale(0.925,1)" font-size="11.2" font-weight="normal" text-anchor="start">U480</text>
<path d="M251.8,93.1H275" stroke="#4fd6cd" stroke-width="1.1"/>
<text transform="translate(278.3,97.0) scale(0.925,1)" font-size="11.2" font-weight="normal" text-anchor="start">HP-U480</text>
<path d="M251.8,106.5H275" stroke="#8c5a60" stroke-width="1.1"/>
<text transform="translate(278.3,110.45) scale(0.925,1)" font-size="11.2" font-weight="normal" text-anchor="start">U480-HP</text>
<rect x="383.6" y="1.9" width="291.79999999999995" height="236.1" fill="none" stroke="#333" stroke-width="1.3"/>
<path d="M383.60,238.0v4 M399.81,238.0v2.2 M416.02,238.0v4 M432.23,238.0v2.2 M448.44,238.0v4 M464.66,238.0v2.2 M480.87,238.0v4 M497.08,238.0v2.2 M513.29,238.0v4 M529.50,238.0v2.2 M545.71,238.0v4 M561.92,238.0v2.2 M578.13,238.0v4 M594.34,238.0v2.2 M610.56,238.0v4 M626.77,238.0v2.2 M642.98,238.0v4 M659.19,238.0v2.2 M675.40,238.0v4" stroke="#222" stroke-width="1.2" fill="none"/>
<text transform="translate(383.6,254.1) scale(0.93,1)" font-size="10.6" font-weight="bold" text-anchor="middle">20</text>
<text transform="translate(416.02222222222224,254.1) scale(0.93,1)" font-size="10.6" font-weight="bold" text-anchor="middle">40</text>
<text transform="translate(448.44444444444446,254.1) scale(0.93,1)" font-size="10.6" font-weight="bold" text-anchor="middle">60</text>
<text transform="translate(480.8666666666667,254.1) scale(0.93,1)" font-size="10.6" font-weight="bold" text-anchor="middle">80</text>
<text transform="translate(513.2888888888889,254.1) scale(0.93,1)" font-size="10.6" font-weight="bold" text-anchor="middle">100</text>
<text transform="translate(545.7111111111111,254.1) scale(0.93,1)" font-size="10.6" font-weight="bold" text-anchor="middle">120</text>
<text transform="translate(578.1333333333333,254.1) scale(0.93,1)" font-size="10.6" font-weight="bold" text-anchor="middle">140</text>
<text transform="translate(610.5555555555555,254.1) scale(0.93,1)" font-size="10.6" font-weight="bold" text-anchor="middle">160</text>
<text transform="translate(642.9777777777778,254.1) scale(0.93,1)" font-size="10.6" font-weight="bold" text-anchor="middle">180</text>
<text transform="translate(675.4,254.1) scale(0.93,1)" font-size="10.6" font-weight="bold" text-anchor="middle">200</text>
<text x="483.8" y="270.6" font-size="12.3" font-weight="bold" text-anchor="start" textLength="92.8" lengthAdjust="spacingAndGlyphs">Temperature (°C)</text>
<text transform="translate(370,157.3) rotate(-90)" x="0" y="0" font-size="12.3" font-weight="bold" textLength="83.7" lengthAdjust="spacingAndGlyphs">Heat flow (W/g)</text>
<text transform="translate(357.9,24.5) scale(0.97,1)" font-size="26.5" font-weight="bold" text-anchor="start">B</text>
<g fill="none" stroke-width="1.4" stroke-linejoin="round">
<path d="M383.7,14.0 C383.9,16.73 384.6,18.50 388,18.40 L388.0,18.67 L389.5,18.60 L391.0,18.53 L392.5,18.48 L394.0,18.44 L395.5,18.41 L397.0,18.40 L398.5,18.40 L400.0,18.41 L401.5,18.43 L403.0,18.46 L404.5,18.51 L406.0,18.57 L407.5,18.63 L409.0,18.71 L410.5,18.80 L412.0,18.90 L413.5,19.01 L415.0,19.13 L416.5,19.26 L418.0,19.40 L419.5,19.55 L421.0,19.71 L422.5,19.88 L424.0,20.06 L425.5,20.25 L427.0,20.44 L428.5,20.65 L430.0,20.86 L431.5,21.08 L433.0,21.31 L434.5,21.54 L436.0,21.79 L437.5,22.04 L439.0,22.30 L440.5,22.56 L442.0,22.84 L443.5,23.12 L445.0,23.40 L446.5,23.69 L448.0,23.99 L449.5,24.30 L451.0,24.61 L452.5,24.92 L454.0,25.24 L455.5,25.57 L457.0,25.90 L458.5,26.23 L460.0,26.58 L461.5,26.92 L463.0,27.27 L464.5,27.62 L466.0,27.98 L467.5,28.34 L469.0,28.70 L470.5,29.06 L472.0,29.43 L473.5,29.79 L475.0,30.15 L476.5,30.51 L478.0,30.87 L479.5,31.23 L481.0,31.58 L482.5,31.92 L484.0,32.27 L485.5,32.60 L487.0,32.93 L488.5,33.26 L490.0,33.57 L491.5,33.88 L493.0,34.17 L494.5,34.46 L496.0,34.74 L497.5,35.00 L499.0,35.25 L500.5,35.49 L502.0,35.72 L503.5,35.93 L505.0,36.13 L506.5,36.31 L508.0,36.47 L509.5,36.62 L511.0,36.75 L512.5,36.86 L514.0,36.95 L515.5,37.03 L517.0,37.08 L518.5,37.11 L520.0,37.11 L521.5,37.10 L523.0,37.06 L524.5,37.00 L526.0,36.91 L527.5,36.81 L529.0,36.68 L530.5,36.53 L532.0,36.36 L533.5,36.17 L535.0,35.96 L536.5,35.73 L538.0,35.49 L539.5,35.24 L541.0,34.96 L542.5,34.68 L544.0,34.38 L545.5,34.07 L547.0,33.75 L548.5,33.41 L550.0,33.07 L551.5,32.72 L553.0,32.36 L554.5,32.00 L556.0,31.62 L557.5,31.25 L559.0,30.86 L560.5,30.48 L562.0,30.09 L563.5,29.70 L565.0,29.31 L566.5,28.92 L568.0,28.53 L569.5,28.14 L571.0,27.75 L572.5,27.37 L574.0,26.99 L575.5,26.61 L577.0,26.24 L578.5,25.88 L580.0,25.53 L581.5,25.18 L583.0,24.84 L584.5,24.52 L586.0,24.20 L587.5,23.89 L589.0,23.59 L590.5,23.31 L592.0,23.03 L593.5,22.76 L595.0,22.50 L596.5,22.25 L598.0,22.01 L599.5,21.77 L601.0,21.55 L602.5,21.33 L604.0,21.13 L605.5,20.93 L607.0,20.74 L608.5,20.55 L610.0,20.38 L611.5,20.21 L613.0,20.05 L614.5,19.90 L616.0,19.76 L617.5,19.62 L619.0,19.49 L620.5,19.37 L622.0,19.26 L623.5,19.15 L625.0,19.05 L626.5,18.95 L628.0,18.86 L629.5,18.78 L631.0,18.71 L632.5,18.64 L634.0,18.57 L635.5,18.52 L637.0,18.46 L638.5,18.42 L640.0,18.38 L641.5,18.34 L643.0,18.31 L644.5,18.29 L646.0,18.27 L647.5,18.25 L649.0,18.24 L650.5,18.24 L652.0,18.24 L653.5,18.24 L655.0,18.25 L656.5,18.26 L658.0,18.28 L659.5,18.30 L661.0,18.32 L662.5,18.35 L664.0,18.38 L665.5,18.41 L667.0,18.45 L668.5,18.49 L670.0,18.53 L671.3,18.58" stroke="#7a3a4a"/>
<path d="M383.7,39.6 C383.9,41.96 384.6,43.50 388,43.40 L388.0,43.63 L389.5,43.59 L391.0,43.56 L392.5,43.54 L394.0,43.53 L395.5,43.52 L397.0,43.52 L398.5,43.53 L400.0,43.55 L401.5,43.58 L403.0,43.62 L404.5,43.67 L406.0,43.72 L407.5,43.79 L409.0,43.86 L410.5,43.94 L412.0,44.03 L413.5,44.13 L415.0,44.24 L416.5,44.36 L418.0,44.49 L419.5,44.63 L421.0,44.77 L422.5,44.93 L424.0,45.10 L425.5,45.27 L427.0,45.46 L428.5,45.65 L430.0,45.85 L431.5,46.07 L433.0,46.29 L434.5,46.53 L436.0,46.77 L437.5,47.02 L439.0,47.29 L440.5,47.56 L442.0,47.84 L443.5,48.14 L445.0,48.44 L446.5,48.76 L448.0,49.08 L449.5,49.42 L451.0,49.76 L452.5,50.12 L454.0,50.49 L455.5,50.86 L457.0,51.25 L458.5,51.65 L460.0,52.06 L461.5,52.48 L463.0,52.91 L464.5,53.36 L466.0,53.81 L467.5,54.27 L469.0,54.73 L470.5,55.20 L472.0,55.68 L473.5,56.15 L475.0,56.63 L476.5,57.10 L478.0,57.57 L479.5,58.03 L481.0,58.49 L482.5,58.94 L484.0,59.38 L485.5,59.80 L487.0,60.22 L488.5,60.62 L490.0,61.00 L491.5,61.36 L493.0,61.71 L494.5,62.03 L496.0,62.34 L497.5,62.62 L499.0,62.88 L500.5,63.12 L502.0,63.34 L503.5,63.53 L505.0,63.71 L506.5,63.86 L508.0,63.99 L509.5,64.10 L511.0,64.19 L512.5,64.25 L514.0,64.29 L515.5,64.31 L517.0,64.31 L518.5,64.29 L520.0,64.24 L521.5,64.17 L523.0,64.08 L524.5,63.97 L526.0,63.83 L527.5,63.67 L529.0,63.50 L530.5,63.30 L532.0,63.09 L533.5,62.85 L535.0,62.60 L536.5,62.34 L538.0,62.06 L539.5,61.77 L541.0,61.46 L542.5,61.14 L544.0,60.81 L545.5,60.46 L547.0,60.11 L548.5,59.75 L550.0,59.38 L551.5,59.00 L553.0,58.61 L554.5,58.22 L556.0,57.83 L557.5,57.43 L559.0,57.03 L560.5,56.62 L562.0,56.21 L563.5,55.81 L565.0,55.40 L566.5,54.99 L568.0,54.59 L569.5,54.19 L571.0,53.79 L572.5,53.39 L574.0,53.00 L575.5,52.62 L577.0,52.24 L578.5,51.87 L580.0,51.51 L581.5,51.16 L583.0,50.82 L584.5,50.49 L586.0,50.17 L587.5,49.86 L589.0,49.56 L590.5,49.28 L592.0,49.00 L593.5,48.73 L595.0,48.47 L596.5,48.23 L598.0,47.99 L599.5,47.76 L601.0,47.54 L602.5,47.33 L604.0,47.12 L605.5,46.93 L607.0,46.74 L608.5,46.57 L610.0,46.40 L611.5,46.23 L613.0,46.08 L614.5,45.93 L616.0,45.80 L617.5,45.66 L619.0,45.54 L620.5,45.42 L622.0,45.31 L623.5,45.21 L625.0,45.11 L626.5,45.02 L628.0,44.93 L629.5,44.85 L631.0,44.78 L632.5,44.71 L634.0,44.64 L635.5,44.58 L637.0,44.53 L638.5,44.48 L640.0,44.44 L641.5,44.40 L643.0,44.36 L644.5,44.33 L646.0,44.30 L647.5,44.28 L649.0,44.26 L650.5,44.24 L652.0,44.23 L653.5,44.22 L655.0,44.21 L656.5,44.21 L658.0,44.21 L659.5,44.21 L661.0,44.21 L662.5,44.21 L664.0,44.22 L665.5,44.23 L667.0,44.24 L668.5,44.25 L670.0,44.26 L671.3,44.27" stroke="#50d2ca"/>
<path d="M383.7,66.4 C383.9,69.25 384.6,71.10 388,71.00 L388.0,71.30 L389.5,71.23 L391.0,71.18 L392.5,71.13 L394.0,71.09 L395.5,71.07 L397.0,71.05 L398.5,71.04 L400.0,71.04 L401.5,71.05 L403.0,71.08 L404.5,71.11 L406.0,71.15 L407.5,71.20 L409.0,71.26 L410.5,71.33 L412.0,71.42 L413.5,71.51 L415.0,71.62 L416.5,71.73 L418.0,71.86 L419.5,71.99 L421.0,72.14 L422.5,72.30 L424.0,72.47 L425.5,72.65 L427.0,72.85 L428.5,73.05 L430.0,73.27 L431.5,73.50 L433.0,73.74 L434.5,73.99 L436.0,74.25 L437.5,74.53 L439.0,74.81 L440.5,75.11 L442.0,75.41 L443.5,75.73 L445.0,76.05 L446.5,76.38 L448.0,76.71 L449.5,77.06 L451.0,77.41 L452.5,77.76 L454.0,78.12 L455.5,78.49 L457.0,78.86 L458.5,79.23 L460.0,79.60 L461.5,79.98 L463.0,80.36 L464.5,80.75 L466.0,81.13 L467.5,81.51 L469.0,81.90 L470.5,82.28 L472.0,82.66 L473.5,83.04 L475.0,83.42 L476.5,83.79 L478.0,84.16 L479.5,84.52 L481.0,84.88 L482.5,85.24 L484.0,85.58 L485.5,85.93 L487.0,86.26 L488.5,86.58 L490.0,86.90 L491.5,87.21 L493.0,87.50 L494.5,87.79 L496.0,88.07 L497.5,88.33 L499.0,88.58 L500.5,88.82 L502.0,89.04 L503.5,89.25 L505.0,89.45 L506.5,89.63 L508.0,89.79 L509.5,89.94 L511.0,90.07 L512.5,90.19 L514.0,90.28 L515.5,90.36 L517.0,90.41 L518.5,90.45 L520.0,90.46 L521.5,90.45 L523.0,90.42 L524.5,90.37 L526.0,90.30 L527.5,90.21 L529.0,90.09 L530.5,89.96 L532.0,89.80 L533.5,89.63 L535.0,89.44 L536.5,89.24 L538.0,89.02 L539.5,88.78 L541.0,88.53 L542.5,88.27 L544.0,87.99 L545.5,87.70 L547.0,87.40 L548.5,87.09 L550.0,86.77 L551.5,86.45 L553.0,86.11 L554.5,85.77 L556.0,85.42 L557.5,85.06 L559.0,84.70 L560.5,84.33 L562.0,83.96 L563.5,83.59 L565.0,83.22 L566.5,82.84 L568.0,82.47 L569.5,82.09 L571.0,81.72 L572.5,81.35 L574.0,80.98 L575.5,80.61 L577.0,80.25 L578.5,79.90 L580.0,79.55 L581.5,79.20 L583.0,78.86 L584.5,78.53 L586.0,78.21 L587.5,77.90 L589.0,77.59 L590.5,77.29 L592.0,77.00 L593.5,76.71 L595.0,76.43 L596.5,76.16 L598.0,75.90 L599.5,75.65 L601.0,75.40 L602.5,75.16 L604.0,74.93 L605.5,74.70 L607.0,74.48 L608.5,74.27 L610.0,74.07 L611.5,73.87 L613.0,73.68 L614.5,73.50 L616.0,73.33 L617.5,73.16 L619.0,73.00 L620.5,72.85 L622.0,72.71 L623.5,72.57 L625.0,72.44 L626.5,72.32 L628.0,72.20 L629.5,72.09 L631.0,71.99 L632.5,71.90 L634.0,71.81 L635.5,71.73 L637.0,71.66 L638.5,71.60 L640.0,71.54 L641.5,71.49 L643.0,71.45 L644.5,71.41 L646.0,71.39 L647.5,71.36 L649.0,71.35 L650.5,71.35 L652.0,71.35 L653.5,71.35 L655.0,71.37 L656.5,71.39 L658.0,71.42 L659.5,71.46 L661.0,71.50 L662.5,71.55 L664.0,71.61 L665.5,71.68 L667.0,71.75 L668.5,71.83 L670.0,71.92 L671.3,72.00" stroke="#d0a535"/>
<path d="M383.7,93.0 C383.9,95.73 384.6,97.50 388,97.40 L388.0,97.59 L389.5,97.56 L391.0,97.54 L392.5,97.53 L394.0,97.53 L395.5,97.53 L397.0,97.55 L398.5,97.57 L400.0,97.59 L401.5,97.63 L403.0,97.67 L404.5,97.72 L406.0,97.78 L407.5,97.85 L409.0,97.93 L410.5,98.01 L412.0,98.10 L413.5,98.20 L415.0,98.30 L416.5,98.42 L418.0,98.54 L419.5,98.67 L421.0,98.81 L422.5,98.95 L424.0,99.11 L425.5,99.27 L427.0,99.44 L428.5,99.62 L430.0,99.80 L431.5,100.00 L433.0,100.20 L434.5,100.41 L436.0,100.62 L437.5,100.85 L439.0,101.08 L440.5,101.32 L442.0,101.57 L443.5,101.83 L445.0,102.09 L446.5,102.36 L448.0,102.64 L449.5,102.93 L451.0,103.23 L452.5,103.53 L454.0,103.85 L455.5,104.17 L457.0,104.50 L458.5,104.83 L460.0,105.18 L461.5,105.53 L463.0,105.89 L464.5,106.26 L466.0,106.63 L467.5,107.02 L469.0,107.40 L470.5,107.79 L472.0,108.19 L473.5,108.59 L475.0,108.99 L476.5,109.39 L478.0,109.79 L479.5,110.19 L481.0,110.59 L482.5,110.98 L484.0,111.38 L485.5,111.76 L487.0,112.15 L488.5,112.52 L490.0,112.89 L491.5,113.26 L493.0,113.61 L494.5,113.95 L496.0,114.29 L497.5,114.61 L499.0,114.92 L500.5,115.22 L502.0,115.50 L503.5,115.77 L505.0,116.02 L506.5,116.25 L508.0,116.47 L509.5,116.67 L511.0,116.85 L512.5,117.01 L514.0,117.15 L515.5,117.27 L517.0,117.36 L518.5,117.43 L520.0,117.48 L521.5,117.50 L523.0,117.49 L524.5,117.46 L526.0,117.40 L527.5,117.32 L529.0,117.21 L530.5,117.08 L532.0,116.93 L533.5,116.75 L535.0,116.56 L536.5,116.35 L538.0,116.11 L539.5,115.86 L541.0,115.60 L542.5,115.32 L544.0,115.02 L545.5,114.72 L547.0,114.40 L548.5,114.07 L550.0,113.73 L551.5,113.38 L553.0,113.02 L554.5,112.65 L556.0,112.28 L557.5,111.91 L559.0,111.53 L560.5,111.14 L562.0,110.76 L563.5,110.37 L565.0,109.99 L566.5,109.60 L568.0,109.22 L569.5,108.84 L571.0,108.46 L572.5,108.09 L574.0,107.73 L575.5,107.37 L577.0,107.02 L578.5,106.68 L580.0,106.35 L581.5,106.03 L583.0,105.72 L584.5,105.42 L586.0,105.14 L587.5,104.86 L589.0,104.59 L590.5,104.34 L592.0,104.09 L593.5,103.85 L595.0,103.62 L596.5,103.39 L598.0,103.18 L599.5,102.97 L601.0,102.77 L602.5,102.57 L604.0,102.38 L605.5,102.19 L607.0,102.01 L608.5,101.83 L610.0,101.65 L611.5,101.48 L613.0,101.32 L614.5,101.15 L616.0,100.99 L617.5,100.82 L619.0,100.66 L620.5,100.50 L622.0,100.34 L623.5,100.19 L625.0,100.03 L626.5,99.87 L628.0,99.72 L629.5,99.57 L631.0,99.42 L632.5,99.28 L634.0,99.14 L635.5,99.00 L637.0,98.87 L638.5,98.74 L640.0,98.62 L641.5,98.50 L643.0,98.39 L644.5,98.28 L646.0,98.19 L647.5,98.10 L649.0,98.01 L650.5,97.94 L652.0,97.87 L653.5,97.82 L655.0,97.77 L656.5,97.73 L658.0,97.70 L659.5,97.68 L661.0,97.67 L662.5,97.68 L664.0,97.69 L665.5,97.72 L667.0,97.76 L668.5,97.81 L670.0,97.87 L671.3,97.94" stroke="#9c55e0"/>
<path d="M383.7,120.0 C383.9,122.73 384.6,124.50 388,124.40 L388.0,124.52 L389.5,124.52 L391.0,124.53 L392.5,124.54 L394.0,124.56 L395.5,124.58 L397.0,124.61 L398.5,124.64 L400.0,124.68 L401.5,124.73 L403.0,124.79 L404.5,124.85 L406.0,124.92 L407.5,125.00 L409.0,125.09 L410.5,125.18 L412.0,125.29 L413.5,125.41 L415.0,125.54 L416.5,125.68 L418.0,125.83 L419.5,125.99 L421.0,126.16 L422.5,126.35 L424.0,126.55 L425.5,126.76 L427.0,126.99 L428.5,127.23 L430.0,127.48 L431.5,127.75 L433.0,128.04 L434.5,128.34 L436.0,128.66 L437.5,128.99 L439.0,129.33 L440.5,129.69 L442.0,130.06 L443.5,130.44 L445.0,130.84 L446.5,131.24 L448.0,131.65 L449.5,132.07 L451.0,132.50 L452.5,132.94 L454.0,133.39 L455.5,133.84 L457.0,134.29 L458.5,134.76 L460.0,135.22 L461.5,135.69 L463.0,136.16 L464.5,136.64 L466.0,137.11 L467.5,137.59 L469.0,138.06 L470.5,138.53 L472.0,138.99 L473.5,139.44 L475.0,139.89 L476.5,140.33 L478.0,140.75 L479.5,141.17 L481.0,141.57 L482.5,141.95 L484.0,142.31 L485.5,142.66 L487.0,142.98 L488.5,143.29 L490.0,143.57 L491.5,143.82 L493.0,144.05 L494.5,144.25 L496.0,144.42 L497.5,144.56 L499.0,144.68 L500.5,144.78 L502.0,144.85 L503.5,144.89 L505.0,144.91 L506.5,144.91 L508.0,144.88 L509.5,144.84 L511.0,144.77 L512.5,144.68 L514.0,144.57 L515.5,144.45 L517.0,144.30 L518.5,144.14 L520.0,143.96 L521.5,143.76 L523.0,143.55 L524.5,143.32 L526.0,143.08 L527.5,142.82 L529.0,142.55 L530.5,142.27 L532.0,141.98 L533.5,141.67 L535.0,141.36 L536.5,141.03 L538.0,140.70 L539.5,140.35 L541.0,140.00 L542.5,139.64 L544.0,139.27 L545.5,138.90 L547.0,138.52 L548.5,138.14 L550.0,137.75 L551.5,137.36 L553.0,136.97 L554.5,136.58 L556.0,136.18 L557.5,135.78 L559.0,135.39 L560.5,134.99 L562.0,134.59 L563.5,134.20 L565.0,133.81 L566.5,133.42 L568.0,133.04 L569.5,132.66 L571.0,132.28 L572.5,131.91 L574.0,131.55 L575.5,131.19 L577.0,130.85 L578.5,130.51 L580.0,130.18 L581.5,129.85 L583.0,129.54 L584.5,129.24 L586.0,128.95 L587.5,128.67 L589.0,128.40 L590.5,128.13 L592.0,127.88 L593.5,127.64 L595.0,127.40 L596.5,127.17 L598.0,126.95 L599.5,126.74 L601.0,126.54 L602.5,126.34 L604.0,126.16 L605.5,125.98 L607.0,125.80 L608.5,125.64 L610.0,125.48 L611.5,125.33 L613.0,125.19 L614.5,125.05 L616.0,124.92 L617.5,124.80 L619.0,124.68 L620.5,124.57 L622.0,124.46 L623.5,124.36 L625.0,124.27 L626.5,124.18 L628.0,124.09 L629.5,124.01 L631.0,123.94 L632.5,123.87 L634.0,123.80 L635.5,123.74 L637.0,123.69 L638.5,123.63 L640.0,123.59 L641.5,123.54 L643.0,123.50 L644.5,123.46 L646.0,123.43 L647.5,123.40 L649.0,123.37 L650.5,123.35 L652.0,123.32 L653.5,123.30 L655.0,123.28 L656.5,123.27 L658.0,123.26 L659.5,123.24 L661.0,123.23 L662.5,123.22 L664.0,123.22 L665.5,123.21 L667.0,123.21 L668.5,123.20 L670.0,123.20 L671.3,123.20" stroke="#3fae62"/>
<path d="M383.7,147.6 C383.9,150.08 384.6,151.70 388,151.60 L388.0,151.83 L389.5,151.82 L391.0,151.81 L392.5,151.81 L394.0,151.82 L395.5,151.83 L397.0,151.85 L398.5,151.88 L400.0,151.92 L401.5,151.96 L403.0,152.02 L404.5,152.08 L406.0,152.16 L407.5,152.24 L409.0,152.33 L410.5,152.44 L412.0,152.55 L413.5,152.67 L415.0,152.81 L416.5,152.96 L418.0,153.11 L419.5,153.28 L421.0,153.46 L422.5,153.66 L424.0,153.86 L425.5,154.08 L427.0,154.32 L428.5,154.56 L430.0,154.82 L431.5,155.09 L433.0,155.38 L434.5,155.68 L436.0,156.00 L437.5,156.32 L439.0,156.66 L440.5,157.01 L442.0,157.38 L443.5,157.75 L445.0,158.13 L446.5,158.52 L448.0,158.91 L449.5,159.32 L451.0,159.73 L452.5,160.14 L454.0,160.56 L455.5,160.98 L457.0,161.41 L458.5,161.84 L460.0,162.26 L461.5,162.69 L463.0,163.12 L464.5,163.55 L466.0,163.98 L467.5,164.41 L469.0,164.83 L470.5,165.24 L472.0,165.65 L473.5,166.05 L475.0,166.44 L476.5,166.82 L478.0,167.19 L479.5,167.55 L481.0,167.89 L482.5,168.22 L484.0,168.54 L485.5,168.84 L487.0,169.11 L488.5,169.37 L490.0,169.61 L491.5,169.83 L493.0,170.03 L494.5,170.20 L496.0,170.35 L497.5,170.47 L499.0,170.57 L500.5,170.65 L502.0,170.71 L503.5,170.75 L505.0,170.77 L506.5,170.77 L508.0,170.75 L509.5,170.71 L511.0,170.65 L512.5,170.57 L514.0,170.47 L515.5,170.36 L517.0,170.23 L518.5,170.09 L520.0,169.93 L521.5,169.75 L523.0,169.56 L524.5,169.36 L526.0,169.14 L527.5,168.91 L529.0,168.67 L530.5,168.41 L532.0,168.15 L533.5,167.87 L535.0,167.59 L536.5,167.29 L538.0,166.99 L539.5,166.68 L541.0,166.36 L542.5,166.03 L544.0,165.70 L545.5,165.36 L547.0,165.02 L548.5,164.68 L550.0,164.33 L551.5,163.97 L553.0,163.62 L554.5,163.26 L556.0,162.91 L557.5,162.55 L559.0,162.19 L560.5,161.83 L562.0,161.48 L563.5,161.13 L565.0,160.77 L566.5,160.43 L568.0,160.08 L569.5,159.75 L571.0,159.41 L572.5,159.08 L574.0,158.76 L575.5,158.45 L577.0,158.14 L578.5,157.84 L580.0,157.56 L581.5,157.28 L583.0,157.01 L584.5,156.75 L586.0,156.50 L587.5,156.25 L589.0,156.02 L590.5,155.80 L592.0,155.59 L593.5,155.38 L595.0,155.19 L596.5,155.00 L598.0,154.82 L599.5,154.65 L601.0,154.48 L602.5,154.33 L604.0,154.18 L605.5,154.04 L607.0,153.90 L608.5,153.78 L610.0,153.66 L611.5,153.54 L613.0,153.44 L614.5,153.34 L616.0,153.24 L617.5,153.15 L619.0,153.07 L620.5,153.00 L622.0,152.92 L623.5,152.86 L625.0,152.80 L626.5,152.74 L628.0,152.69 L629.5,152.65 L631.0,152.60 L632.5,152.57 L634.0,152.53 L635.5,152.51 L637.0,152.48 L638.5,152.46 L640.0,152.44 L641.5,152.43 L643.0,152.41 L644.5,152.41 L646.0,152.40 L647.5,152.40 L649.0,152.40 L650.5,152.40 L652.0,152.40 L653.5,152.41 L655.0,152.41 L656.5,152.42 L658.0,152.43 L659.5,152.45 L661.0,152.46 L662.5,152.47 L664.0,152.49 L665.5,152.50 L667.0,152.52 L668.5,152.53 L670.0,152.55 L671.3,152.56" stroke="#2e62dc"/>
<path d="M383.7,173.0 C385.0,174.78 388.0,178.20 391,178.10 L391.0,178.33 L392.5,178.25 L394.0,178.18 L395.5,178.14 L397.0,178.11 L398.5,178.10 L400.0,178.11 L401.5,178.13 L403.0,178.17 L404.5,178.23 L406.0,178.30 L407.5,178.38 L409.0,178.48 L410.5,178.59 L412.0,178.72 L413.5,178.86 L415.0,179.02 L416.5,179.18 L418.0,179.36 L419.5,179.55 L421.0,179.76 L422.5,179.97 L424.0,180.20 L425.5,180.43 L427.0,180.68 L428.5,180.94 L430.0,181.20 L431.5,181.48 L433.0,181.76 L434.5,182.06 L436.0,182.36 L437.5,182.67 L439.0,182.98 L440.5,183.31 L442.0,183.64 L443.5,183.98 L445.0,184.32 L446.5,184.67 L448.0,185.03 L449.5,185.39 L451.0,185.76 L452.5,186.13 L454.0,186.50 L455.5,186.88 L457.0,187.26 L458.5,187.64 L460.0,188.03 L461.5,188.42 L463.0,188.81 L464.5,189.21 L466.0,189.60 L467.5,190.00 L469.0,190.39 L470.5,190.78 L472.0,191.17 L473.5,191.56 L475.0,191.94 L476.5,192.32 L478.0,192.69 L479.5,193.06 L481.0,193.42 L482.5,193.77 L484.0,194.12 L485.5,194.45 L487.0,194.77 L488.5,195.09 L490.0,195.39 L491.5,195.67 L493.0,195.95 L494.5,196.21 L496.0,196.45 L497.5,196.68 L499.0,196.90 L500.5,197.09 L502.0,197.27 L503.5,197.43 L505.0,197.56 L506.5,197.68 L508.0,197.78 L509.5,197.85 L511.0,197.90 L512.5,197.93 L514.0,197.93 L515.5,197.91 L517.0,197.86 L518.5,197.78 L520.0,197.67 L521.5,197.54 L523.0,197.38 L524.5,197.19 L526.0,196.96 L527.5,196.72 L529.0,196.45 L530.5,196.15 L532.0,195.84 L533.5,195.50 L535.0,195.15 L536.5,194.79 L538.0,194.41 L539.5,194.02 L541.0,193.62 L542.5,193.22 L544.0,192.80 L545.5,192.39 L547.0,191.98 L548.5,191.56 L550.0,191.15 L551.5,190.74 L553.0,190.34 L554.5,189.95 L556.0,189.56 L557.5,189.18 L559.0,188.81 L560.5,188.45 L562.0,188.10 L563.5,187.76 L565.0,187.42 L566.5,187.09 L568.0,186.77 L569.5,186.46 L571.0,186.16 L572.5,185.86 L574.0,185.58 L575.5,185.30 L577.0,185.03 L578.5,184.76 L580.0,184.51 L581.5,184.26 L583.0,184.02 L584.5,183.79 L586.0,183.57 L587.5,183.35 L589.0,183.15 L590.5,182.94 L592.0,182.75 L593.5,182.56 L595.0,182.39 L596.5,182.21 L598.0,182.05 L599.5,181.89 L601.0,181.74 L602.5,181.59 L604.0,181.45 L605.5,181.32 L607.0,181.19 L608.5,181.07 L610.0,180.95 L611.5,180.84 L613.0,180.74 L614.5,180.64 L616.0,180.55 L617.5,180.46 L619.0,180.38 L620.5,180.30 L622.0,180.23 L623.5,180.16 L625.0,180.10 L626.5,180.04 L628.0,179.98 L629.5,179.93 L631.0,179.89 L632.5,179.85 L634.0,179.81 L635.5,179.77 L637.0,179.74 L638.5,179.72 L640.0,179.69 L641.5,179.67 L643.0,179.66 L644.5,179.64 L646.0,179.63 L647.5,179.63 L649.0,179.62 L650.5,179.62 L652.0,179.62 L653.5,179.62 L655.0,179.63 L656.5,179.64 L658.0,179.65 L659.5,179.66 L661.0,179.67 L662.5,179.69 L664.0,179.70 L665.5,179.72 L667.0,179.74 L668.5,179.76 L670.0,179.79 L671.3,179.81" stroke="#ea4248"/>
<path d="M383.7,200.8 C384.1,204.04 386.0,206.80 389,206.70 L389.0,206.79 L390.5,206.86 L392.0,206.93 L393.5,207.00 L395.0,207.08 L396.5,207.15 L398.0,207.23 L399.5,207.32 L401.0,207.41 L402.5,207.50 L404.0,207.59 L405.5,207.70 L407.0,207.80 L408.5,207.92 L410.0,208.04 L411.5,208.16 L413.0,208.30 L414.5,208.44 L416.0,208.59 L417.5,208.75 L419.0,208.92 L420.5,209.09 L422.0,209.28 L423.5,209.48 L425.0,209.69 L426.5,209.91 L428.0,210.15 L429.5,210.39 L431.0,210.65 L432.5,210.92 L434.0,211.21 L435.5,211.51 L437.0,211.82 L438.5,212.15 L440.0,212.50 L441.5,212.86 L443.0,213.24 L444.5,213.63 L446.0,214.05 L447.5,214.48 L449.0,214.93 L450.5,215.40 L452.0,215.89 L453.5,216.40 L455.0,216.93 L456.5,217.49 L458.0,218.07 L459.5,218.67 L461.0,219.28 L462.5,219.90 L464.0,220.52 L465.5,221.14 L467.0,221.75 L468.5,222.34 L470.0,222.91 L471.5,223.45 L473.0,223.95 L474.5,224.42 L476.0,224.86 L477.5,225.26 L479.0,225.63 L480.5,225.97 L482.0,226.27 L483.5,226.55 L485.0,226.79 L486.5,227.01 L488.0,227.19 L489.5,227.35 L491.0,227.48 L492.5,227.59 L494.0,227.67 L495.5,227.72 L497.0,227.75 L498.5,227.76 L500.0,227.75 L501.5,227.71 L503.0,227.65 L504.5,227.58 L506.0,227.48 L507.5,227.37 L509.0,227.23 L510.5,227.08 L512.0,226.92 L513.5,226.73 L515.0,226.54 L516.5,226.33 L518.0,226.10 L519.5,225.87 L521.0,225.62 L522.5,225.36 L524.0,225.09 L525.5,224.81 L527.0,224.52 L528.5,224.23 L530.0,223.92 L531.5,223.61 L533.0,223.29 L534.5,222.96 L536.0,222.63 L537.5,222.29 L539.0,221.95 L540.5,221.61 L542.0,221.26 L543.5,220.90 L545.0,220.55 L546.5,220.19 L548.0,219.83 L549.5,219.47 L551.0,219.11 L552.5,218.74 L554.0,218.38 L555.5,218.02 L557.0,217.66 L558.5,217.31 L560.0,216.95 L561.5,216.60 L563.0,216.26 L564.5,215.92 L566.0,215.58 L567.5,215.25 L569.0,214.92 L570.5,214.60 L572.0,214.29 L573.5,213.98 L575.0,213.68 L576.5,213.40 L578.0,213.12 L579.5,212.85 L581.0,212.59 L582.5,212.34 L584.0,212.10 L585.5,211.87 L587.0,211.65 L588.5,211.44 L590.0,211.24 L591.5,211.04 L593.0,210.86 L594.5,210.69 L596.0,210.52 L597.5,210.36 L599.0,210.21 L600.5,210.07 L602.0,209.94 L603.5,209.81 L605.0,209.69 L606.5,209.58 L608.0,209.47 L609.5,209.37 L611.0,209.28 L612.5,209.19 L614.0,209.11 L615.5,209.03 L617.0,208.96 L618.5,208.90 L620.0,208.84 L621.5,208.79 L623.0,208.74 L624.5,208.69 L626.0,208.66 L627.5,208.62 L629.0,208.59 L630.5,208.56 L632.0,208.54 L633.5,208.51 L635.0,208.50 L636.5,208.48 L638.0,208.47 L639.5,208.46 L641.0,208.45 L642.5,208.45 L644.0,208.45 L645.5,208.44 L647.0,208.45 L648.5,208.45 L650.0,208.45 L651.5,208.45 L653.0,208.46 L654.5,208.46 L656.0,208.47 L657.5,208.48 L659.0,208.48 L660.5,208.49 L662.0,208.49 L663.5,208.50 L665.0,208.50 L666.5,208.50 L668.0,208.51 L669.5,208.51 L671.0,208.50 L671.3,208.50" stroke="#404040"/>
</g>
<text x="388.3" y="14.7" font-size="11.2" font-weight="normal" text-anchor="start" textLength="42.5" lengthAdjust="spacingAndGlyphs">U480-HP</text>
<text x="388.3" y="40.9" font-size="11.2" font-weight="normal" text-anchor="start" textLength="42.5" lengthAdjust="spacingAndGlyphs">HP-U480</text>
<text x="388.3" y="67.2" font-size="11.2" font-weight="normal" text-anchor="start" textLength="24.5" lengthAdjust="spacingAndGlyphs">U480</text>
<text x="388.3" y="92.8" font-size="11.2" font-weight="normal" text-anchor="start" textLength="42.5" lengthAdjust="spacingAndGlyphs">U240-HP</text>
<text x="388.9" y="120.4" font-size="11.2" font-weight="normal" text-anchor="start" textLength="42.5" lengthAdjust="spacingAndGlyphs">HP-U240</text>
<text x="388.9" y="148.1" font-size="11.2" font-weight="normal" text-anchor="start" textLength="24.5" lengthAdjust="spacingAndGlyphs">U240</text>
<text x="389.2" y="172.9" font-size="11.2" font-weight="normal" text-anchor="start" textLength="14" lengthAdjust="spacingAndGlyphs">HP</text>
<text x="388.3" y="203.8" font-size="11.2" font-weight="normal" text-anchor="start" textLength="33.2" lengthAdjust="spacingAndGlyphs">Control</text>
<text x="482" y="27" font-size="10.6" textLength="80.6" lengthAdjust="spacingAndGlyphs">T<tspan font-size="7" dy="3.4">p</tspan><tspan dy="-3.4">=104.16±0.22 °C</tspan><tspan font-size="6.5" dy="-4.3">c</tspan></text>
<text x="480.5" y="53.7" font-size="10.6" textLength="79.5" lengthAdjust="spacingAndGlyphs">T<tspan font-size="7" dy="3.4">p</tspan><tspan dy="-3.4">=103.54±0.76 °C</tspan><tspan font-size="6.5" dy="-4.3">c</tspan></text>
<text x="480.1" y="80" font-size="10.6" textLength="79.9" lengthAdjust="spacingAndGlyphs">T<tspan font-size="7" dy="3.4">p</tspan><tspan dy="-3.4">=103.72±1.01 °C</tspan><tspan font-size="6.5" dy="-4.3">c</tspan></text>
<text x="480.5" y="107" font-size="10.6" textLength="79.5" lengthAdjust="spacingAndGlyphs">T<tspan font-size="7" dy="3.4">p</tspan><tspan dy="-3.4">=103.71±1.41 °C</tspan><tspan font-size="6.5" dy="-4.3">c</tspan></text>
<text x="471.6" y="134" font-size="10.6" textLength="75.9" lengthAdjust="spacingAndGlyphs">T<tspan font-size="7" dy="3.4">p</tspan><tspan dy="-3.4">=98.86±0.84 °C</tspan><tspan font-size="6.5" dy="-4.3">b</tspan></text>
<text x="467.6" y="161" font-size="10.6" textLength="75.6" lengthAdjust="spacingAndGlyphs">T<tspan font-size="7" dy="3.4">p</tspan><tspan dy="-3.4">=96.77±0.28 °C</tspan><tspan font-size="6.5" dy="-4.3">a</tspan></text>
<text x="471.6" y="188" font-size="10.6" textLength="75.9" lengthAdjust="spacingAndGlyphs">T<tspan font-size="7" dy="3.4">p</tspan><tspan dy="-3.4">=98.40±0.59 °C</tspan><tspan font-size="6.5" dy="-4.3">b</tspan></text>
<text x="465.5" y="216.4" font-size="10.6" textLength="76.3" lengthAdjust="spacingAndGlyphs">T<tspan font-size="7" dy="3.4">p</tspan><tspan dy="-3.4">=95.90±0.72 °C</tspan><tspan font-size="6.5" dy="-4.3">a</tspan></text>
<text x="585.6" y="14.6" font-size="10.6" textLength="86.5" lengthAdjust="spacingAndGlyphs">ΔH=-95.16±0.25 J/g<tspan font-size="6.5" dy="-4.3">A</tspan></text>
<text x="585.6" y="40" font-size="10.6" textLength="86.5" lengthAdjust="spacingAndGlyphs">ΔH=-96.71±0.30 J/g<tspan font-size="6.5" dy="-4.3">B</tspan></text>
<text x="585.6" y="68.4" font-size="10.6" textLength="86.5" lengthAdjust="spacingAndGlyphs">ΔH=-97.11±0.22 J/g<tspan font-size="6.5" dy="-4.3">B</tspan></text>
<text x="585.6" y="94.3" font-size="10.6" textLength="86.5" lengthAdjust="spacingAndGlyphs">ΔH=-98.59±0.28 J/g<tspan font-size="6.5" dy="-4.3">C</tspan></text>
<text x="585.6" y="119.3" font-size="10.6" textLength="86.5" lengthAdjust="spacingAndGlyphs">ΔH=-98.26±0.19 J/g<tspan font-size="6.5" dy="-4.3">C</tspan></text>
<text x="585.6" y="148.4" font-size="10.6" textLength="86.5" lengthAdjust="spacingAndGlyphs">ΔH=-99.74±0.41 J/g<tspan font-size="6.5" dy="-4.3">D</tspan></text>
<text x="585.6" y="175.9" font-size="10.6" textLength="86.5" lengthAdjust="spacingAndGlyphs">ΔH=-99.05±0.36 J/g<tspan font-size="6.5" dy="-4.3">D</tspan></text>
<text x="585.6" y="203.9" font-size="10.6" textLength="86.5" lengthAdjust="spacingAndGlyphs">ΔH=-99.85±0.50 J/g<tspan font-size="6.5" dy="-4.3">D</tspan></text>
</svg></body></html>
